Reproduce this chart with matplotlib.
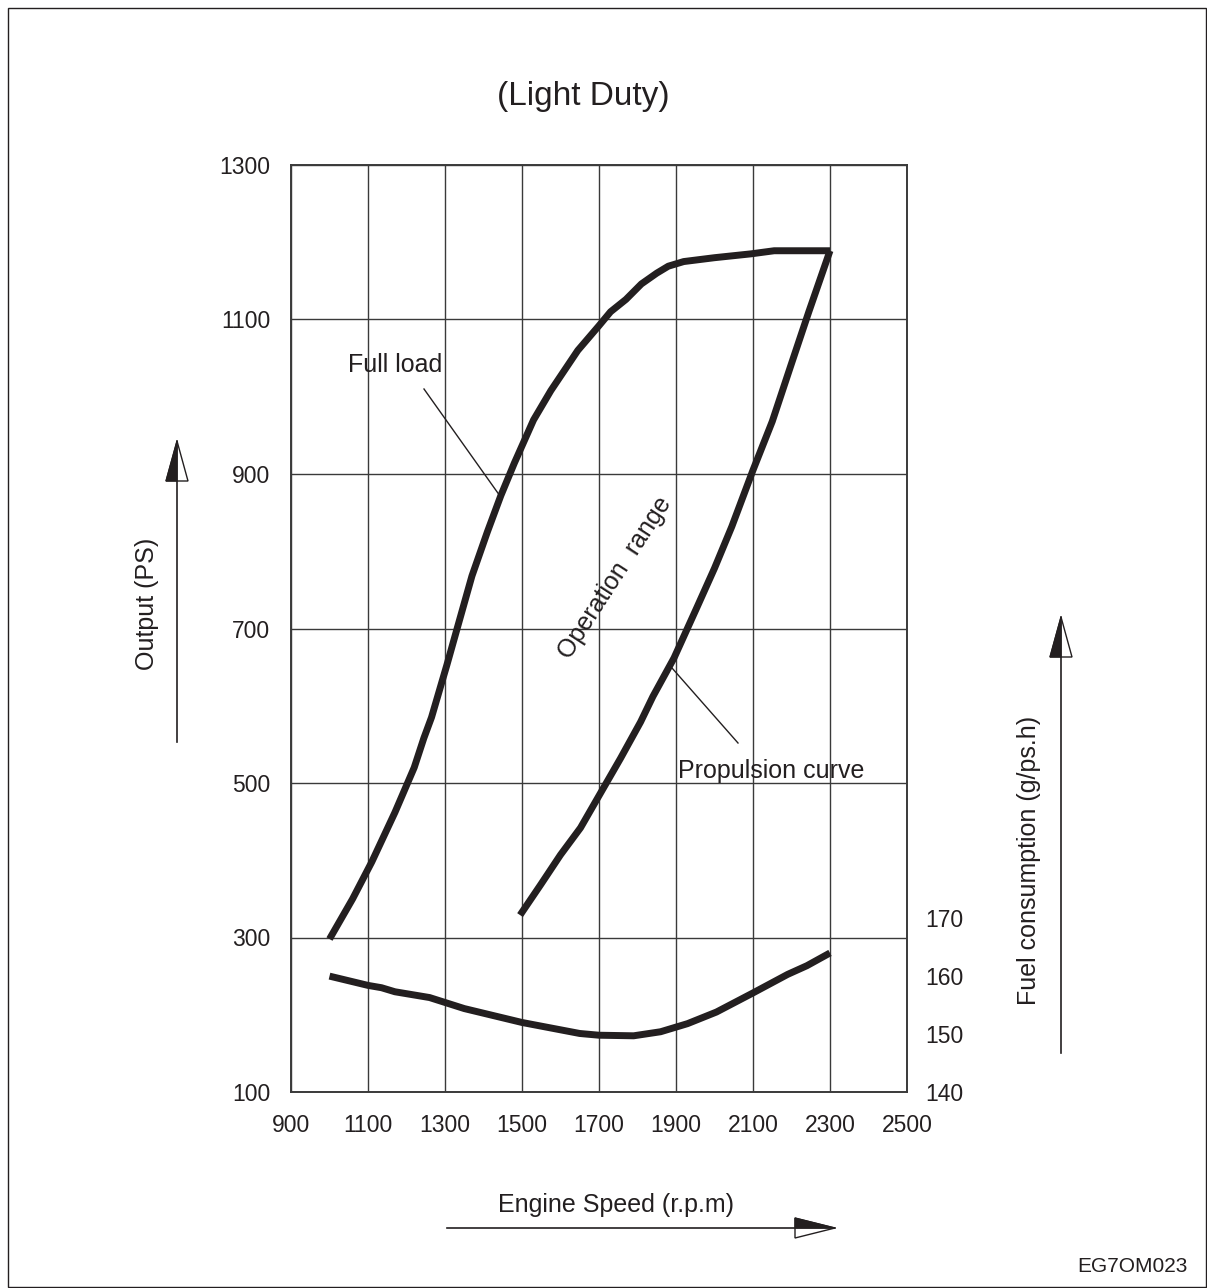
import matplotlib
matplotlib.use("Agg")
import matplotlib.pyplot as plt
from matplotlib.patches import Polygon, Rectangle
from matplotlib.lines import Line2D

plt.rcParams["font.family"] = ["Liberation Sans", "DejaVu Sans"]

# ---- data ----
full_rpm = [1000, 1060, 1110, 1170, 1220, 1245, 1265, 1305, 1340, 1370, 1410, 1445,
            1480, 1530, 1575, 1645, 1700, 1730, 1770, 1810, 1850, 1880, 1920, 2000,
            2095, 2155, 2300]
full_ps = [298, 350, 398, 462, 520, 558, 585, 653, 715, 768, 825, 872,
           914, 970, 1008, 1060, 1092, 1110, 1126, 1146, 1160, 1169, 1175, 1180,
           1185, 1189, 1189]

prop_rpm = [1495, 1548, 1600, 1652, 1704, 1756, 1808, 1840, 1895, 1955, 2000, 2045,
            2100, 2150, 2200, 2245, 2300]
prop_ps = [329, 368, 407, 442, 487, 532, 579, 612, 662, 728, 778, 832,
           905, 968, 1043, 1110, 1189]

fuel_rpm = [1000, 1100, 1135, 1170, 1260, 1350, 1500, 1650, 1700, 1790, 1860, 1930,
            2005, 2100, 2190, 2240, 2300]
fuel_g = [160.0, 158.4, 158.0, 157.3, 156.3, 154.4, 152.0, 150.1, 149.8, 149.7, 150.4, 151.8,
          153.8, 157.1, 160.3, 161.8, 164.0]

x_ticks = [900, 1100, 1300, 1500, 1700, 1900, 2100, 2300, 2500]
y_ticks = [100, 300, 500, 700, 900, 1100, 1300]
fuel_ticks = [140, 150, 160, 170]

W, H = 1207, 1288
INK = "#231f20"
GRID = "#3a3a3a"

fig = plt.figure(figsize=(W / 100, H / 100), dpi=100)
ax = fig.add_axes([291 / W, 1 - 1092 / H, 616 / W, 927 / H])


def fx(px):
    return px / W


def fy(py):
    return 1 - py / H


ax.set_xlim(900, 2500)
ax.set_ylim(100, 1300)
ax.set_xticks(x_ticks)
ax.set_yticks(y_ticks)
ax.grid(True, color=GRID, lw=1.0)
ax.set_axisbelow(True)
ax.tick_params(length=0, labelsize=16.5, colors=INK)
ax.tick_params(axis="x", pad=16)
ax.tick_params(axis="y", pad=15)
for s in ax.spines.values():
    s.set_linewidth(1.4)
    s.set_color(GRID)

ax.plot(full_rpm, full_ps, color=INK, lw=5, solid_capstyle="butt", solid_joinstyle="round")
ax.plot(prop_rpm, prop_ps, color=INK, lw=5, solid_capstyle="butt", solid_joinstyle="round")

ax2 = ax.twinx()
ax2.set_ylim(140, 300)
ax2.set_yticks(fuel_ticks)
ax2.tick_params(length=0, labelsize=16.5, colors=INK, pad=13)
for s in ax2.spines.values():
    s.set_visible(False)
ax2.plot(fuel_rpm, fuel_g, color=INK, lw=5, solid_capstyle="butt", solid_joinstyle="round")

# annotations
fig.text(fx(583), fy(97), "(Light Duty)", fontsize=24, ha="center", va="center", color=INK)
fig.text(fx(348), fy(372), "Full load", fontsize=18, ha="left", va="baseline", color=INK)
fig.text(fx(678), fy(778), "Propulsion curve", fontsize=18, ha="left", va="baseline", color=INK)
fig.text(fx(615), fy(578), "Operation  range", fontsize=18, rotation=57,
         ha="center", va="center", color=INK, rotation_mode="anchor")
fig.text(fx(147), fy(604), "Output (PS)", fontsize=18, rotation=90,
         ha="center", va="center", color=INK)
fig.text(fx(1029), fy(860), "Fuel consumption (g/ps.h)", fontsize=18, rotation=90,
         ha="center", va="center", color=INK)
fig.text(fx(616), fy(1205), "Engine Speed (r.p.m)", fontsize=18,
         ha="center", va="center", color=INK)
fig.text(fx(1132), fy(1267), "EG7OM023", fontsize=15, ha="center", va="center", color=INK)

# leader lines
fig.add_artist(Line2D([fx(424), fx(500)], [fy(389), fy(496)], color=INK, lw=1))
fig.add_artist(Line2D([fx(672), fx(738)], [fy(668), fy(743)], color=INK, lw=1))


def half_arrow(x0, y0, x1, y1, head=40, half=11):
    # shaft
    fig.add_artist(Line2D([fx(x0), fx(x1)], [fy(y0), fy(y1)], color=INK, lw=1.2))
    dx, dy = x1 - x0, y1 - y0
    n = (dx ** 2 + dy ** 2) ** 0.5
    ux, uy = dx / n, dy / n
    bx, by = x1 - ux * head, y1 - uy * head
    px, py = uy, -ux
    left = (bx + px * half, by + py * half)
    right = (bx - px * half, by - py * half)
    tip = (x1, y1)
    fig.add_artist(Polygon([(fx(a), fy(b)) for a, b in [tip, left, right]], closed=True,
                           facecolor="white", edgecolor=INK, lw=1.0))
    fig.add_artist(Polygon([(fx(a), fy(b)) for a, b in [tip, left, (bx, by)]], closed=True,
                           facecolor=INK, edgecolor=INK, lw=0.8))


half_arrow(177, 742, 177, 441)
half_arrow(1061, 1053, 1061, 617)
half_arrow(447, 1228, 835, 1228, head=40, half=10)

fig.add_artist(Rectangle((fx(8), fy(1287)), fx(1206) - fx(8), fy(8) - fy(1287),
                         fill=False, edgecolor=INK, lw=1.0))

fig.savefig("out.png", dpi=100)
